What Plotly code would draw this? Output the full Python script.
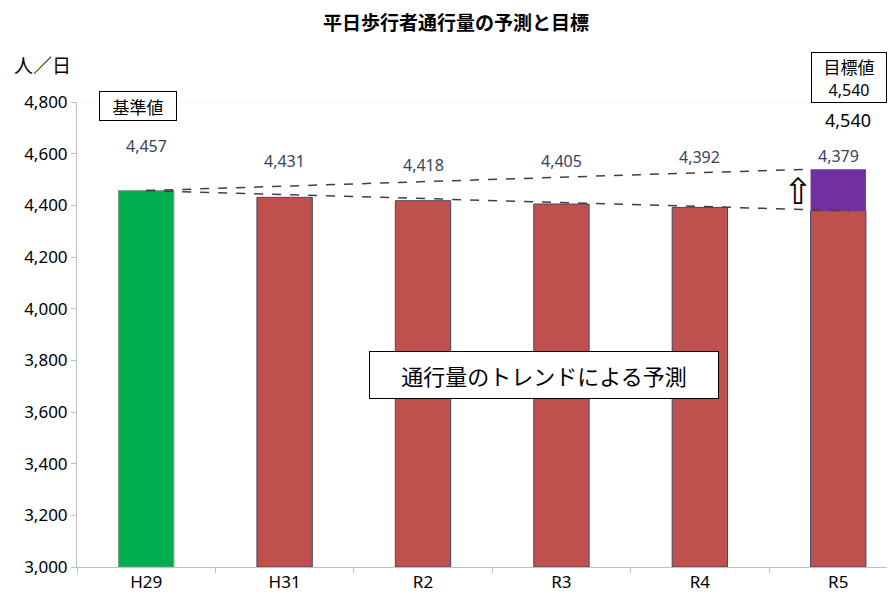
import plotly.graph_objects as go

# ---- data ----
categories = ["H29", "H31", "R2", "R3", "R4", "R5"]
values = [4457, 4431, 4418, 4405, 4392, 4379]
target_value = 4540
value_labels = ["4,457", "4,431", "4,418", "4,405", "4,392", "4,379"]
y_ticks = [3000, 3200, 3400, 3600, 3800, 4000, 4200, 4400, 4600, 4800]
y_tick_labels = ["3,000", "3,200", "3,400", "3,600", "3,800", "4,000", "4,200", "4,400", "4,600", "4,800"]
Y_MIN, Y_MAX = 3000, 4800

# ---- style ----
OFF = 8  # default page body margin
W, H = 895 - OFF, 601 - OFF
PLOT_L, PLOT_R, PLOT_T, PLOT_B = 77, 895, 102, 567  # in page pixels
ML, MR, MT, MB = PLOT_L - OFF, 895 - PLOT_R, PLOT_T - OFF, 601 - PLOT_B
PW, PH = PLOT_R - PLOT_L, PLOT_B - PLOT_T
BAR_W = 0.40
label_shift = [45, 36, 36, 43, 50, 55]
bar_colors = ["#00B050"] + ["#C0504D"] * 5
bar_lines = ["#7F9F8A"] + ["#3B4A63"] * 5
NUM_FONT = "Noto Sans, sans-serif"
JP_FONT = "Noto Sans CJK JP, sans-serif"


def px(xp):
    return (xp - PLOT_L) / PW


def py(yp):
    return (PLOT_B - yp) / PH


base = [Y_MIN] * len(categories)
fig = go.Figure()
fig.add_trace(go.Bar(
    x=categories, y=[v - Y_MIN for v in values], base=base,
    width=BAR_W, marker=dict(color=bar_colors, line=dict(color=bar_lines, width=1)),
    hoverinfo="skip", showlegend=False,
))
# target increment on last category
fig.add_trace(go.Bar(
    x=[categories[-1]], y=[target_value - values[-1]], base=[values[-1]],
    width=BAR_W, marker=dict(color="#7030A0", line=dict(color="#7030A0", width=0)),
    hoverinfo="skip", showlegend=False,
))

last = len(categories) - 1
shapes = [
    dict(type="line", xref="x", yref="y", x0=0, y0=values[0], x1=last - BAR_W / 2, y1=target_value,
         line=dict(color="#404040", width=1.5, dash="dash")),
    dict(type="line", xref="x", yref="y", x0=0, y0=values[0], x1=last + 0.08, y1=values[-1],
         line=dict(color="#404040", width=1.5, dash="dash")),
    dict(type="line", xref="paper", yref="y", x0=0, x1=1, y0=Y_MAX, y1=Y_MAX,
         line=dict(color="#EDEDED", width=1)),
]

annotations = []
for c, v, t, s in zip(categories, values, value_labels, label_shift):
    annotations.append(dict(xref="x", yref="y", x=c, y=v, yshift=s, text=t, showarrow=False,
                            xanchor="center", yanchor="middle",
                            font=dict(family=NUM_FONT, size=16, color="#34445E")))


def note(xp, yp, text, size, family=JP_FONT, **kw):
    return dict(xref="paper", yref="paper", x=px(xp), y=py(yp), text=text, showarrow=False,
                xanchor="center", yanchor="middle", font=dict(family=family, size=size, color="#000000"), **kw)


box = dict(bordercolor="#000000", borderwidth=1, bgcolor="#FFFFFF")
annotations += [
    note(456, 21, "<b>平日歩行者通行量の予測と目標</b>", 19),
    note(42, 65, "人／日", 19),
    note(138, 106, "基準値", 17, width=74, height=26, **box),
    note(849, 77, "目標値<br><span style='font-size:16px;font-family:Noto Sans'>4,540</span>", 17,
         width=72, height=47, **box),
    note(848, 120, "4,540", 18, family=NUM_FONT),
    note(544, 375, "通行量のトレンドによる予測", 22, width=346, height=44, **box),
    note(798, 191, "⇧", 36, family="DejaVu Sans"),
]

fig.update_layout(
    width=W, height=H, margin=dict(l=ML, r=MR, t=MT, b=MB, autoexpand=False),
    paper_bgcolor="#FFFFFF", plot_bgcolor="#FFFFFF",
    barmode="overlay", shapes=shapes, annotations=annotations,
    xaxis=dict(type="category", range=[-0.5, 5.41], showgrid=False, showline=True,
               linecolor="#BFBFBF", linewidth=1, ticks="outside", tickson="boundaries",
               ticklen=5, tickcolor="#BFBFBF", tickfont=dict(family=NUM_FONT, size=17, color="#000000"),
               zeroline=False, fixedrange=True, automargin=False),
    yaxis=dict(range=[Y_MIN, Y_MAX], tickvals=y_ticks, ticktext=y_tick_labels, showgrid=False,
               showline=True, linecolor="#BFBFBF", linewidth=1, ticks="outside", ticklen=5,
               tickcolor="#BFBFBF", tickfont=dict(family=NUM_FONT, size=17, color="#000000"),
               zeroline=False, fixedrange=True, automargin=False),
)

fig.write_html("out.html")
